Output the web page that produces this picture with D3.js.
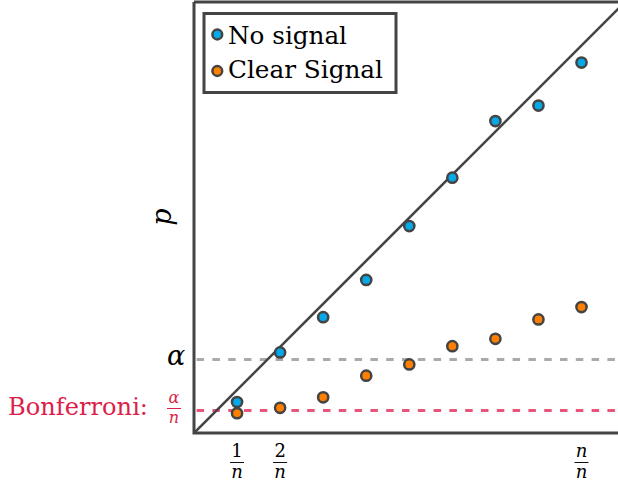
<!DOCTYPE html>
<html><head><meta charset="utf-8">
<script src="https://cdn.jsdelivr.net/npm/d3@7"></script>
<style>html,body{margin:0;padding:0;background:#fff}svg{display:block}
svg text{font-family:"DejaVu Serif",serif;}</style>
</head><body>
<script>
// ---- data ----
const n = 9;
const ranks = [1, 2, 3, 4, 5, 6, 7, 8, 9];
const noSignal = [0.080, 0.208, 0.299, 0.395, 0.534, 0.659, 0.805, 0.845, 0.956];
const clearSignal = [0.051, 0.065, 0.092, 0.148, 0.177, 0.224, 0.243, 0.293, 0.325];
const alphaLevel = 0.190;
const bonferroniLevel = 0.058;
const xTickRanks = [1, 2, 9];
const xTickNumerators = ["1", "2", "n"];
const seriesNames = ["No signal", "Clear Signal"];
const seriesColors = ["#05a8e8", "#ff8000"];

const W = 618, H = 483;
const pLeft = 194, pBottom = 433, pTop = 2, pRight = 621;
const unit = 387.5;
const x = d3.scaleLinear().domain([0, (pRight - pLeft) / unit]).range([pLeft, pRight]);
const y = d3.scaleLinear().domain([0, (pBottom - pTop) / unit]).range([pBottom, pTop]);

const svg = d3.select("body").append("svg").attr("width", W).attr("height", H);
const dark = "#444";

svg.append("clipPath").attr("id", "clip").append("rect")
  .attr("x", pLeft).attr("y", pTop).attr("width", pRight - pLeft).attr("height", pBottom - pTop);

const plot = svg.append("g").attr("clip-path", "url(#clip)");

// threshold lines
plot.append("line").attr("x1", x(0)).attr("x2", x(1.2))
  .attr("y1", y(alphaLevel)).attr("y2", y(alphaLevel))
  .attr("stroke", "#aaaaaa").attr("stroke-width", 3)
  .attr("stroke-dasharray", "7.5,8.3").attr("stroke-dashoffset", 13.2);
plot.append("line").attr("x1", x(0)).attr("x2", x(1.2))
  .attr("y1", y(bonferroniLevel)).attr("y2", y(bonferroniLevel))
  .attr("stroke", "#e9547a").attr("stroke-width", 3)
  .attr("stroke-dasharray", "7.5,8.3").attr("stroke-dashoffset", 13.2);

// diagonal y = x
plot.append("path").datum([0, 1.2])
  .attr("d", d3.line().x(d => x(d)).y(d => y(d)))
  .attr("stroke", dark).attr("stroke-width", 2.6).attr("fill", "none");

// frame
svg.append("path")
  .attr("d", `M${pLeft},${pTop} H${pRight} M${pLeft},${pTop} V${pBottom} H${pRight}`)
  .attr("stroke", dark).attr("stroke-width", 3).attr("fill", "none");

// points
const series = [noSignal, clearSignal];
series.forEach((vals, si) => {
  svg.append("g").selectAll("circle").data(ranks).join("circle")
    .attr("cx", r => x(r / n)).attr("cy", (r, i) => y(vals[i]))
    .attr("r", 5.1).attr("fill", seriesColors[si])
    .attr("stroke", dark).attr("stroke-width", 2.5);
});

// x tick labels as fractions
const xt = svg.append("g");
xTickRanks.forEach((r, i) => {
  const cx = x(r / n);
  xt.append("text").attr("x", cx).attr("y", 457).attr("text-anchor", "middle")
    .style("font-size", "18px")
    .style("font-style", xTickNumerators[i] === "n" ? "italic" : "normal")
    .text(xTickNumerators[i]);
  xt.append("line").attr("x1", cx - 7).attr("x2", cx + 7).attr("y1", 462.5).attr("y2", 462.5)
    .attr("stroke", "#111").attr("stroke-width", 1);
  xt.append("text").attr("x", cx).attr("y", 478).attr("text-anchor", "middle")
    .style("font-size", "18px").style("font-style", "italic").text("n");
});

// y labels
svg.append("text").attr("x", 176).attr("y", y(alphaLevel) + 6).attr("text-anchor", "middle")
  .style("font-size", "27px").style("font-style", "italic").text("α");

const red = "#dc1f4a";
svg.append("text").attr("x", 8).attr("y", 415)
  .style("font-size", "25px").attr("fill", red)
  .attr("textLength", 140).attr("lengthAdjust", "spacingAndGlyphs").text("Bonferroni:");
svg.append("text").attr("x", 174).attr("y", 403).attr("text-anchor", "middle")
  .style("font-size", "16px").style("font-style", "italic").attr("fill", red).text("α");
svg.append("line").attr("x1", 167).attr("x2", 181).attr("y1", 408.5).attr("y2", 408.5)
  .attr("stroke", red).attr("stroke-width", 1);
svg.append("text").attr("x", 174).attr("y", 423).attr("text-anchor", "middle")
  .style("font-size", "16px").style("font-style", "italic").attr("fill", red).text("n");

svg.append("text").attr("transform", "translate(171,217) rotate(-90)").attr("text-anchor", "middle")
  .style("font-size", "27px").style("font-style", "italic").text("p");

// legend
const lg = svg.append("g");
lg.append("rect").attr("x", 204).attr("y", 13.5).attr("width", 192).attr("height", 79)
  .attr("fill", "#fff").attr("stroke", dark).attr("stroke-width", 3);
seriesNames.forEach((name, i) => {
  const cy = [34.5, 71][i];
  lg.append("circle").attr("cx", 217.3).attr("cy", cy).attr("r", 4.9)
    .attr("fill", seriesColors[i]).attr("stroke", dark).attr("stroke-width", 2.5);
  lg.append("text").attr("x", 228).attr("y", [43.5, 77.5][i])
    .style("font-size", "25px")
    .attr("textLength", [119, 155][i]).attr("lengthAdjust", "spacingAndGlyphs")
    .text(name);
});
</script>
</body></html>
